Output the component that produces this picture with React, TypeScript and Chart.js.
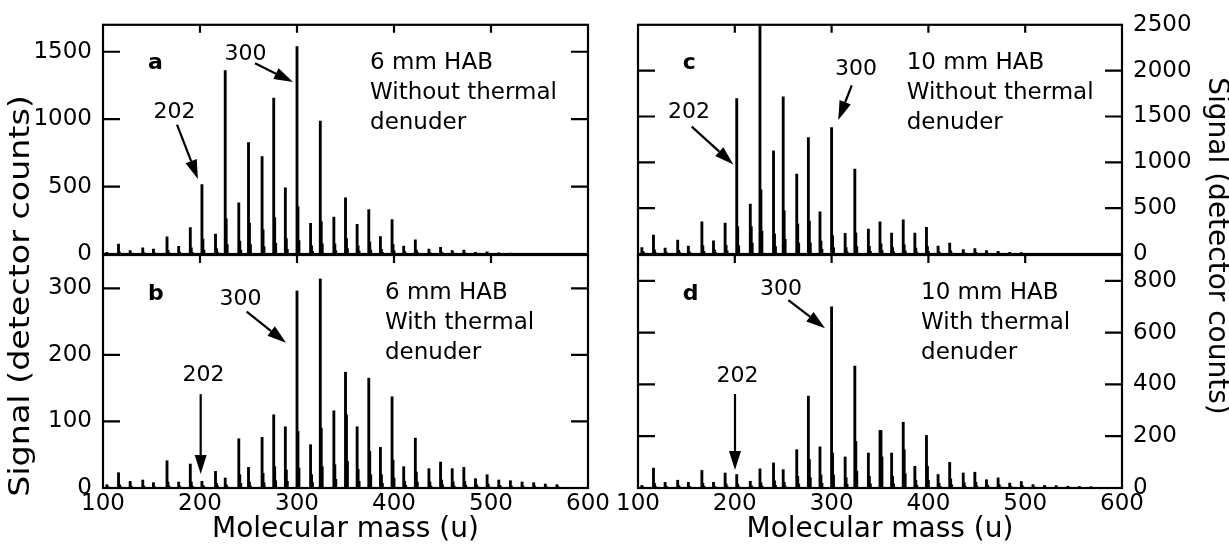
import React, { useEffect, useRef } from "react";
import { Chart, registerables } from "chart.js";

Chart.register(...registerables);

const FONT = '"DejaVu Sans", "Liberation Sans", Arial, sans-serif';

// ---------------- data ----------------
const massTicks = [100, 200, 300, 400, 500, 600];

const peakMasses = [104, 116, 128, 141, 152, 166, 178, 190, 202, 216, 226, 240, 250, 264, 276, 288, 300, 314, 324, 338, 350, 362, 374, 386, 398, 410, 422, 436, 448, 460, 472, 484, 496, 508, 520, 532, 544, 556, 568];

// panel a: 6 mm HAB, without thermal denuder
const aMain = [12, 73, 25, 45, 37, 127, 56, 196, 515, 147, 1360, 380, 826, 723, 1156, 490, 1539, 228, 985, 274, 416, 220, 330, 130, 255, 59, 105, 37, 49, 25, 29, 12, 17, 8, 6, 5, 4, 3, 3];
const aIso1 = [4, 15, 6, 10, 8, 28, 14, 45, 110, 40, 260, 95, 230, 180, 270, 115, 350, 60, 240, 75, 115, 60, 90, 35, 70, 18, 30, 12, 15, 8, 9, 4, 5, 3, 2, 2, 1, 1, 1];
const aIso2 = [2, 5, 3, 4, 3, 8, 5, 12, 30, 14, 70, 30, 70, 55, 80, 35, 100, 20, 75, 25, 40, 22, 30, 12, 25, 7, 12, 5, 6, 3, 4, 2, 2, 1, 1, 1, 1, 1, 1];

// panel b: 6 mm HAB, with thermal denuder
const bMain = [5, 23, 10, 12, 8, 41, 9, 36, 10, 25, 15, 74, 31, 76, 110, 92, 296, 65, 314, 116, 174, 92, 165, 61, 137, 32, 75, 29, 39, 29, 31, 14, 20, 12, 11, 9, 8, 6, 5];
const bIso1 = [2, 5, 3, 3, 2, 9, 3, 9, 4, 7, 5, 20, 9, 22, 32, 27, 85, 20, 90, 35, 110, 28, 55, 20, 42, 10, 24, 9, 12, 9, 10, 5, 6, 4, 3, 3, 3, 2, 2];
const bIso2 = [1, 2, 1, 1, 1, 3, 1, 3, 2, 3, 2, 7, 3, 8, 11, 10, 30, 8, 32, 13, 40, 10, 20, 7, 15, 4, 9, 3, 5, 3, 4, 2, 2, 2, 1, 1, 1, 1, 1];

// panel c: 10 mm HAB, without thermal denuder
const cMain = [70, 207, 65, 152, 87, 352, 145, 338, 1695, 545, 2500, 1125, 1713, 871, 1270, 461, 1379, 225, 926, 272, 352, 229, 374, 229, 290, 87, 120, 47, 58, 36, 29, 18, 15, 8, 6, 5, 4, 3, 3];
const cIso1 = [30, 45, 20, 40, 25, 90, 45, 95, 300, 300, 700, 220, 470, 330, 360, 140, 200, 70, 230, 85, 110, 70, 100, 65, 80, 25, 35, 14, 18, 10, 9, 5, 4, 3, 2, 2, 1, 1, 1];
const cIso2 = [15, 15, 8, 15, 10, 30, 18, 35, 90, 120, 250, 80, 160, 120, 120, 50, 70, 25, 80, 30, 40, 25, 35, 22, 28, 9, 12, 5, 6, 4, 3, 2, 2, 1, 1, 1, 1, 1, 1];

// panel d: 10 mm HAB, with thermal denuder
const dMain = [10, 77, 22, 30, 22, 68, 22, 58, 52, 26, 74, 97, 71, 148, 355, 159, 700, 120, 471, 135, 222, 135, 254, 84, 203, 52, 99, 58, 61, 32, 39, 19, 25, 13, 10, 9, 7, 6, 5];
const dIso1 = [4, 18, 7, 9, 7, 18, 7, 16, 15, 9, 20, 28, 22, 45, 110, 50, 135, 40, 180, 45, 222, 45, 148, 30, 84, 18, 35, 20, 22, 11, 14, 7, 9, 5, 4, 3, 3, 2, 2];
const dIso2 = [2, 6, 3, 4, 3, 7, 3, 6, 6, 4, 8, 10, 8, 16, 40, 18, 50, 14, 65, 16, 120, 16, 55, 11, 30, 7, 13, 7, 8, 4, 5, 3, 3, 2, 2, 1, 1, 1, 1];

const yTicksA = [0, 500, 1000, 1500];
const yTicksB = [0, 100, 200, 300];
const yTicksC = [0, 500, 1000, 1500, 2000, 2500];
const yTicksD = [0, 200, 400, 600, 800];

const textA = ["6 mm HAB", "Without thermal", "denuder"];
const textB = ["6 mm HAB", "With thermal", "denuder"];
const textC = ["10 mm HAB", "Without thermal", "denuder"];
const textD = ["10 mm HAB", "With thermal", "denuder"];

const yTitle = "Signal (detector counts)";
const xTitle = "Molecular mass (u)";

// ---------------- layout / annotation config ----------------
type Arrow = [number, number, number, number];
type Label = { text: string; m: number; v: number };
type Panel = {
  letter: string;
  main: number[];
  iso1: number[];
  iso2: number[];
  yTicks: number[];
  yMax: number;
  side: "left" | "right";
  showX: boolean;
  pad: { left: number; right: number; top: number; bottom: number };
  axisW: number;
  letterAt: [number, number];
  labels: Label[];
  arrows: Arrow[];
  text: string[];
  textAt: [number, number];
  extra?: (ctx: CanvasRenderingContext2D) => void;
};

function drawStretched(ctx: CanvasRenderingContext2D, text: string, cx: number, cy: number, rot: number, font: string, sx: number) {
  ctx.save();
  ctx.translate(cx, cy);
  ctx.rotate(rot);
  ctx.scale(sx, 1);
  ctx.font = font;
  ctx.textAlign = "center";
  ctx.textBaseline = "middle";
  ctx.fillText(text, 0, 0);
  ctx.restore();
}

const panels: Panel[] = [
  {
    letter: "a", main: aMain, iso1: aIso1, iso2: aIso2, yTicks: yTicksA, yMax: 1700,
    side: "left", showX: false, pad: { left: 0, right: 641, top: 22, bottom: 296 }, axisW: 103,
    letterAt: [146.4, 1370],
    labels: [{ text: "300", m: 247, v: 1436 }, { text: "202", m: 173.7, v: 1006 }],
    arrows: [[256.7, 1414, 295.9, 1275], [176.3, 960, 197.9, 557]],
    text: textA, textAt: [375.3, 1370],
  },
  {
    letter: "b", main: bMain, iso1: bIso1, iso2: bIso2, yTicks: yTicksB, yMax: 350,
    side: "left", showX: true, pad: { left: 0, right: 641, top: 255, bottom: 22 }, axisW: 103,
    letterAt: [146.4, 282],
    labels: [{ text: "300", m: 241.8, v: 275 }, { text: "202", m: 203.6, v: 160 }],
    arrows: [[248.1, 265, 288.7, 218], [200.7, 141, 200.7, 21]],
    text: textB, textAt: [390.7, 283.5],
    extra: (ctx) => {
      ctx.fillStyle = "#000";
      drawStretched(ctx, yTitle, 22, 296, -Math.PI / 2, `28px ${FONT}`, 1.19);
      ctx.font = `28px ${FONT}`;
      ctx.textAlign = "center";
      ctx.textBaseline = "alphabetic";
      ctx.fillText(xTitle, 345.5, 537);
    },
  },
  {
    letter: "c", main: cMain, iso1: cIso1, iso2: cIso2, yTicks: yTicksC, yMax: 2500,
    side: "right", showX: false, pad: { left: 638, right: 0, top: 22, bottom: 296 }, axisW: 107,
    letterAt: [146.2, 2018],
    labels: [{ text: "300", m: 325.2, v: 1947 }, { text: "202", m: 152.7, v: 1487 }],
    arrows: [[320.8, 1839, 306.9, 1462], [155.5, 1390, 198.5, 977]],
    text: textC, textAt: [377.6, 2018],
  },
  {
    letter: "d", main: dMain, iso1: dIso1, iso2: dIso2, yTicks: yTicksD, yMax: 900,
    side: "right", showX: true, pad: { left: 638, right: 0, top: 255, bottom: 22 }, axisW: 107,
    letterAt: [146.2, 726],
    labels: [{ text: "300", m: 247.7, v: 745 }, { text: "202", m: 202.8, v: 411 }],
    arrows: [[255.3, 726, 293.2, 617], [200.2, 363, 200.2, 70]],
    text: textD, textAt: [392.4, 729],
    extra: (ctx) => {
      ctx.fillStyle = "#000";
      drawStretched(ctx, yTitle, 1216, 246, Math.PI / 2, `28px ${FONT}`, 1.0);
      ctx.font = `28px ${FONT}`;
      ctx.textAlign = "center";
      ctx.textBaseline = "alphabetic";
      ctx.fillText(xTitle, 880, 537);
    },
  },
];

function drawArrow(ctx: CanvasRenderingContext2D, x1: number, y1: number, x2: number, y2: number) {
  const ang = Math.atan2(y2 - y1, x2 - x1);
  const headLen = 19;
  const half = 6;
  const bx = x2 - headLen * Math.cos(ang);
  const by = y2 - headLen * Math.sin(ang);
  ctx.beginPath();
  ctx.moveTo(x1, y1);
  ctx.lineTo(bx, by);
  ctx.lineWidth = 2.2;
  ctx.stroke();
  ctx.beginPath();
  ctx.moveTo(x2, y2);
  ctx.lineTo(bx + half * Math.sin(ang), by - half * Math.cos(ang));
  ctx.lineTo(bx - half * Math.sin(ang), by + half * Math.cos(ang));
  ctx.closePath();
  ctx.fill();
}

function decorPlugin(p: Panel) {
  return {
    id: "decor_" + p.letter,
    afterDraw(chart: any) {
      const { ctx, chartArea: ca } = chart;
      const x = chart.scales.x;
      const y = chart.scales.y;
      ctx.save();
      ctx.strokeStyle = "#000";
      ctx.fillStyle = "#000";
      ctx.lineWidth = 2.2;
      ctx.strokeRect(ca.left, ca.top, ca.right - ca.left, ca.bottom - ca.top);
      ctx.beginPath();
      for (const v of massTicks.slice(1, -1)) {
        const px = x.getPixelForValue(v);
        ctx.moveTo(px, ca.top);
        ctx.lineTo(px, ca.top + 8);
      }
      for (const v of p.yTicks) {
        if (v <= 0 || v >= p.yMax) continue;
        const py = y.getPixelForValue(v);
        ctx.moveTo(ca.left, py);
        ctx.lineTo(ca.left + 17, py);
        ctx.moveTo(ca.right, py);
        ctx.lineTo(ca.right - 17, py);
      }
      ctx.stroke();

      // panel letter
      ctx.font = `bold 22px ${FONT}`;
      ctx.textAlign = "left";
      ctx.textBaseline = "alphabetic";
      ctx.fillText(p.letter, x.getPixelForValue(p.letterAt[0]), y.getPixelForValue(p.letterAt[1]));

      // peak labels
      ctx.font = `22px ${FONT}`;
      ctx.textAlign = "center";
      for (const l of p.labels) {
        ctx.fillText(l.text, x.getPixelForValue(l.m), y.getPixelForValue(l.v));
      }
      for (const a of p.arrows) {
        drawArrow(ctx, x.getPixelForValue(a[0]), y.getPixelForValue(a[1]), x.getPixelForValue(a[2]), y.getPixelForValue(a[3]));
      }

      // text block
      ctx.font = `23px ${FONT}`;
      ctx.textAlign = "left";
      const tx = x.getPixelForValue(p.textAt[0]);
      const ty = y.getPixelForValue(p.textAt[1]);
      p.text.forEach((line, i) => ctx.fillText(line, tx, ty + i * 30));

      if (p.extra) p.extra(ctx);
      ctx.restore();
    },
  };
}

function buildConfig(p: Panel): any {
  const points: { x: number; y: number }[] = [];
  peakMasses.forEach((m, i) => {
    points.push({ x: m, y: p.main[i] });
    points.push({ x: m + 1, y: p.iso1[i] });
    points.push({ x: m + 2, y: p.iso2[i] });
  });
  return {
    type: "bar",
    data: {
      datasets: [
        {
          data: points,
          backgroundColor: "#000",
          borderWidth: 0,
          barThickness: 2.2,
        },
      ],
    },
    options: {
      responsive: false,
      animation: false,
      events: [],
      layout: { padding: p.pad },
      plugins: { legend: { display: false }, tooltip: { enabled: false } },
      scales: {
        x: {
          type: "linear",
          min: 100,
          max: 600,
          offset: false,
          display: p.showX,
          afterBuildTicks: (s: any) => {
            s.ticks = massTicks.map((v) => ({ value: v }));
          },
          afterFit: (s: any) => {
            s.height = p.showX ? 40 : 0;
          },
          grid: { display: false, drawTicks: false },
          border: { display: false },
          ticks: {
            color: "#000",
            font: { family: FONT, size: 23 },
            padding: 2,
            maxRotation: 0,
            autoSkip: false,
            callback: (v: number) => String(v),
          },
        },
        y: {
          type: "linear",
          position: p.side,
          min: 0,
          max: p.yMax,
          stacked: false,
          afterBuildTicks: (s: any) => {
            s.ticks = p.yTicks.map((v) => ({ value: v }));
          },
          afterFit: (s: any) => {
            s.width = p.axisW;
          },
          grid: { display: false, drawTicks: false },
          border: { display: false },
          ticks: {
            color: "#000",
            font: { family: FONT, size: 23 },
            padding: 11,
            callback: (v: number) => String(v),
          },
        },
      },
    },
    plugins: [decorPlugin(p)],
  };
}

function PanelChart({ panel }: { panel: Panel }) {
  const ref = useRef<HTMLCanvasElement>(null);
  useEffect(() => {
    if (!ref.current) return;
    const chart = new Chart(ref.current, buildConfig(panel));
    return () => chart.destroy();
  }, [panel]);
  return (
    <canvas
      ref={ref}
      width={1229}
      height={550}
      style={{ position: "absolute", left: 0, top: 0, width: 1229, height: 550 }}
    />
  );
}

export default function App() {
  return (
    <div style={{ position: "absolute", left: 0, top: 0, width: 1229, height: 550, background: "#fff" }}>
      {panels.map((p) => (
        <PanelChart key={p.letter} panel={p} />
      ))}
    </div>
  );
}
